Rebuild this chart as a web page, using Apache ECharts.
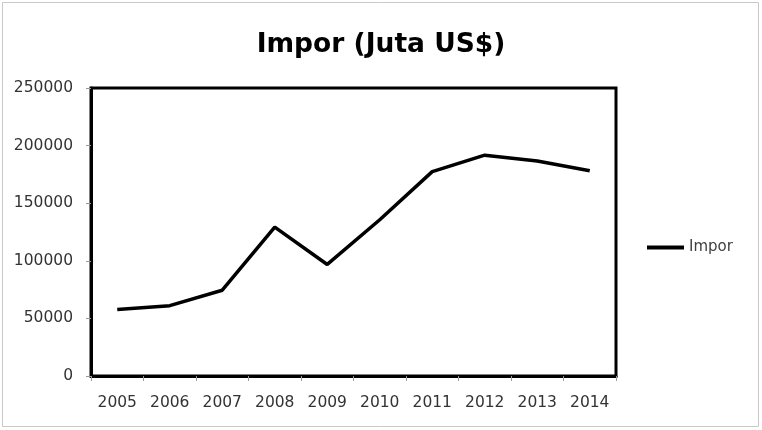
<!DOCTYPE html>
<html><head><meta charset="utf-8">
<script src="https://cdn.jsdelivr.net/npm/echarts@6/dist/echarts.min.js"></script>
<style>html,body{margin:0;padding:0;background:#fff}#c{width:762px;height:430px}</style>
</head><body><div id="c"></div>
<script>
const categories = ['2005','2006','2007','2008','2009','2010','2011','2012','2013','2014'];
const imporValues = [57700, 61066, 74473, 129197, 96829, 135663, 177436, 191691, 186629, 178179];
const titleText = 'Impor (Juta US$)';
const seriesName = 'Impor';
const yTicks = [0, 50000, 100000, 150000, 200000, 250000];

const font = '"DejaVu Sans", sans-serif';
const chart = echarts.init(document.getElementById('c'), null, {renderer: 'canvas'});
chart.setOption({
  animation: false,
  backgroundColor: '#fff',
  title: {text: titleText, left: 'center', top: 27, textStyle: {fontFamily: font, fontWeight: 'bold', fontSize: 26.5, color: '#000'}},
  graphic: [{type: 'rect', shape: {x: 2.5, y: 2.5, width: 756, height: 424}, style: {fill: 'none', stroke: '#c8c8c8', lineWidth: 1}, silent: true}],
  grid: {left: 91, top: 88, right: 146, bottom: 54, show: true, borderColor: '#000', borderWidth: 3, backgroundColor: 'transparent'},
  legend: {orient: 'vertical', left: 642, top: 235, itemWidth: 37, itemHeight: 4, itemGap: 8, icon: 'rect',
    textStyle: {fontFamily: font, fontSize: 15, color: '#404040'}, data: [seriesName]},
  xAxis: {type: 'category', data: categories, boundaryGap: true,
    axisLine: {show: true, lineStyle: {color: '#000', width: 3}},
    axisTick: {show: true, alignWithLabel: false, length: 5, lineStyle: {color: '#999'}},
    axisLabel: {fontFamily: font, fontSize: 15.5, color: '#333', margin: 19},
    splitLine: {show: false}},
  yAxis: {type: 'value', min: yTicks[0], max: yTicks[yTicks.length-1], interval: 50000,
    axisLine: {show: true, lineStyle: {color: '#000', width: 3}},
    axisTick: {show: true, length: 5, lineStyle: {color: '#999'}},
    axisLabel: {fontFamily: font, fontSize: 15.5, color: '#333', margin: 18, formatter: v => String(v)},
    splitLine: {show: false}},
  series: [{name: seriesName, type: 'line', data: imporValues, symbol: 'none', showSymbol: false,
    lineStyle: {color: '#000', width: 3.5}, itemStyle: {color: '#000'}}]
});
</script></body></html>
